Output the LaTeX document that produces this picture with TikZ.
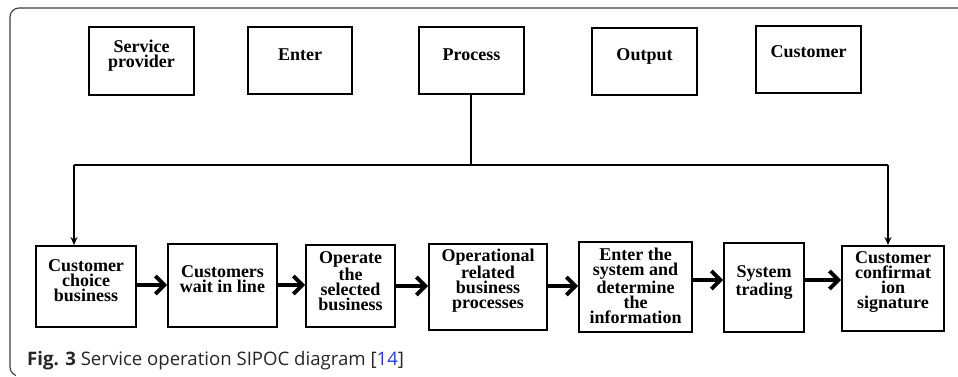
\documentclass[tikz,border=0pt]{standalone}
\usepackage{fontspec}
\setmainfont{Liberation Serif}
\newfontfamily\capfont{Open Sans}
\usetikzlibrary{arrows.meta}
\definecolor{linkblue}{RGB}{40,60,230}
\definecolor{framegray}{RGB}{60,60,60}
\tikzset{
  box/.style={draw=black, line width=2pt, rectangle, inner sep=0pt},
  boxtext/.style={font=\bfseries\fontsize{18}{15}\selectfont, align=center, inner sep=0pt},
  thickarrow/.style={line width=3.8pt, -{Straight Barb[length=9pt,width=18pt,line width=3.8pt]}},
  thinarrow/.style={line width=1.4pt, -{Stealth[length=8pt,width=7pt]}},
  joinline/.style={line width=2pt},
}
\newcommand{\mybox}[7]{%
  % name, x1, y1, x2, y2, text yshift, text
  \node[box, minimum width={#4-#2}, minimum height={#5-#3}] (#1) at ({(#2+#4)/2},{(#3+#5)/2}) {};
  \node[boxtext] (#1t) at ([yshift=#6]#1.center) {#7};
}
\begin{document}
\begin{tikzpicture}[x=1pt,y=-1pt]
\useasboundingbox (0,0) rectangle (958,377);
% frame
\draw[framegray, line width=1.1pt, rounded corners=9pt] (958,8) -- (10,8) -- (10,376) -- (19,376);
\fill[white] (16,370) rectangle (30,378);
% top row
\mybox{sp}{89}{27}{194}{95}{5pt}{Service\\provider}
\mybox{en}{248}{27}{352}{94}{6pt}{Enter}
\mybox{pr}{419}{27}{524}{94}{6pt}{Process}
\mybox{ou}{592}{28}{697}{95}{5pt}{Output}
\mybox{cu}{756}{26}{861}{93}{8pt}{Customer}
% bottom row
\mybox{b1}{36}{246}{136}{327}{6pt}{Customer\\choice\\business}
\mybox{b2}{168}{244}{277}{327}{6pt}{Customers\\wait in line}
\mybox{b3}{306}{245}{395}{327}{5pt}{Operate\\the\\selected\\business}
\mybox{b4}{429}{244}{547}{330}{6pt}{Operational\\related\\business\\processes}
\mybox{b5}{579}{242}{692}{332}{1pt}{Enter the\\system and\\determine\\the\\information}
\mybox{b6}{724}{243}{804}{332}{5pt}{System\\trading}
\mybox{b7}{842}{246}{944}{331}{6pt}{Customer\\confirmat\\ion\\signature}
% connectors from Process
\coordinate (jn) at (471,165);
\coordinate (jl) at (74,165);
\coordinate (jr) at (888,165);
\draw[joinline] (pr.south -| jn) -- (jn);
\draw[joinline] (jl) -- (jr);
\draw[thinarrow] (jl) -- (jl |- b1.north);
\draw[thinarrow] (jr) -- (jr |- b7.north);
% flow arrows
\draw[thickarrow] (b1.east |- 0,285) -- (b2.west |- 0,285);
\draw[thickarrow] (b2.east |- 0,285) -- (b3.west |- 0,285);
\draw[thickarrow] (b3.east |- 0,286) -- (b4.west |- 0,286);
\draw[thickarrow] (b4.east |- 0,286) -- (b5.west |- 0,286);
\draw[thickarrow] (b5.east |- 0,280) -- (b6.west |- 0,280);
\draw[thickarrow] (b6.east |- 0,280) -- (b7.west |- 0,280);
% caption
\node[anchor=base west, inner sep=0pt, font=\capfont\fontsize{18.6}{22}\selectfont, text=black!85] (cap) at (27,365) {\textbf{Fig. 3} Service operation SIPOC diagram [\textcolor{linkblue}{14}]};
\end{tikzpicture}
\end{document}
